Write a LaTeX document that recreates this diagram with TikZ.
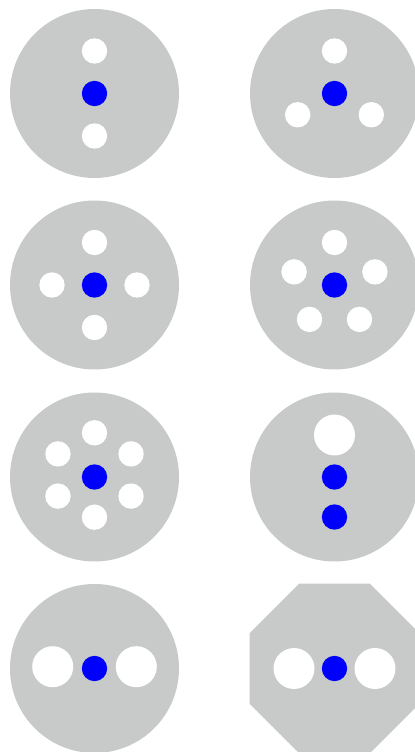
\documentclass[tikz,border=0pt]{standalone}
\usetikzlibrary{calc}
\definecolor{jacket}{RGB}{200,201,201}
\definecolor{core}{RGB}{0,0,255}
\begin{document}
\begin{tikzpicture}[x=0.02cm,y=0.02cm,cable/.style={fill=jacket},hole/.style={fill=white},wire/.style={fill=core}]
\clip (0,0) rectangle (415,752);
\coordinate (a1) at (94.5,658.5);\coordinate (b1) at (334.5,658.5);
\coordinate (a2) at (94.5,467);\coordinate (b2) at (334.5,467);
\coordinate (a3) at (94.5,275);\coordinate (b3) at (334.5,275);
\coordinate (a4) at (94.5,83.5);\coordinate (b4) at (334.5,83.5);
\foreach \c in {a1,b1,a2,b2,a3,b3,a4} \fill[cable] (\c) circle (84.5);
\fill[cable] (b4) +(22.5:92)--+(67.5:92)--+(112.5:92)--+(157.5:92)--+(202.5:92)--+(247.5:92)--+(292.5:92)--+(337.5:92)--cycle;
\foreach \a in {90,270} \fill[hole] ($(a1)+(\a:42.5)$) circle (12.7);
\foreach \a in {90,210,330} \fill[hole] ($(b1)+(\a:42.5)$) circle (12.7);
\foreach \a in {0,90,180,270} \fill[hole] ($(a2)+(\a:42.5)$) circle (12.7);
\foreach \a in {18,90,162,234,306} \fill[hole] ($(b2)+(\a:42.5)$) circle (12.7);
\foreach \a in {30,90,150,210,270,330} \fill[hole] ($(a3)+(0,2)+(\a:42.2)$) circle (12.7);
\fill[hole] ($(b3)+(0,42)$) circle (20.5);
\fill[hole] ($(a4)+(-41.8,1.8)$) circle (20.5);\fill[hole] ($(a4)+(41.8,1.8)$) circle (20.5);
\fill[hole] ($(b4)+(-40.5,0)$) circle (20.5);\fill[hole] ($(b4)+(40.5,0)$) circle (20.5);
\foreach \c in {a1,b1,a2,b2,a3,b3,a4,b4} \fill[wire] (\c) circle (12.7);
\fill[wire] ($(b3)+(0,-40)$) circle (12.7);
\end{tikzpicture}
\end{document}
